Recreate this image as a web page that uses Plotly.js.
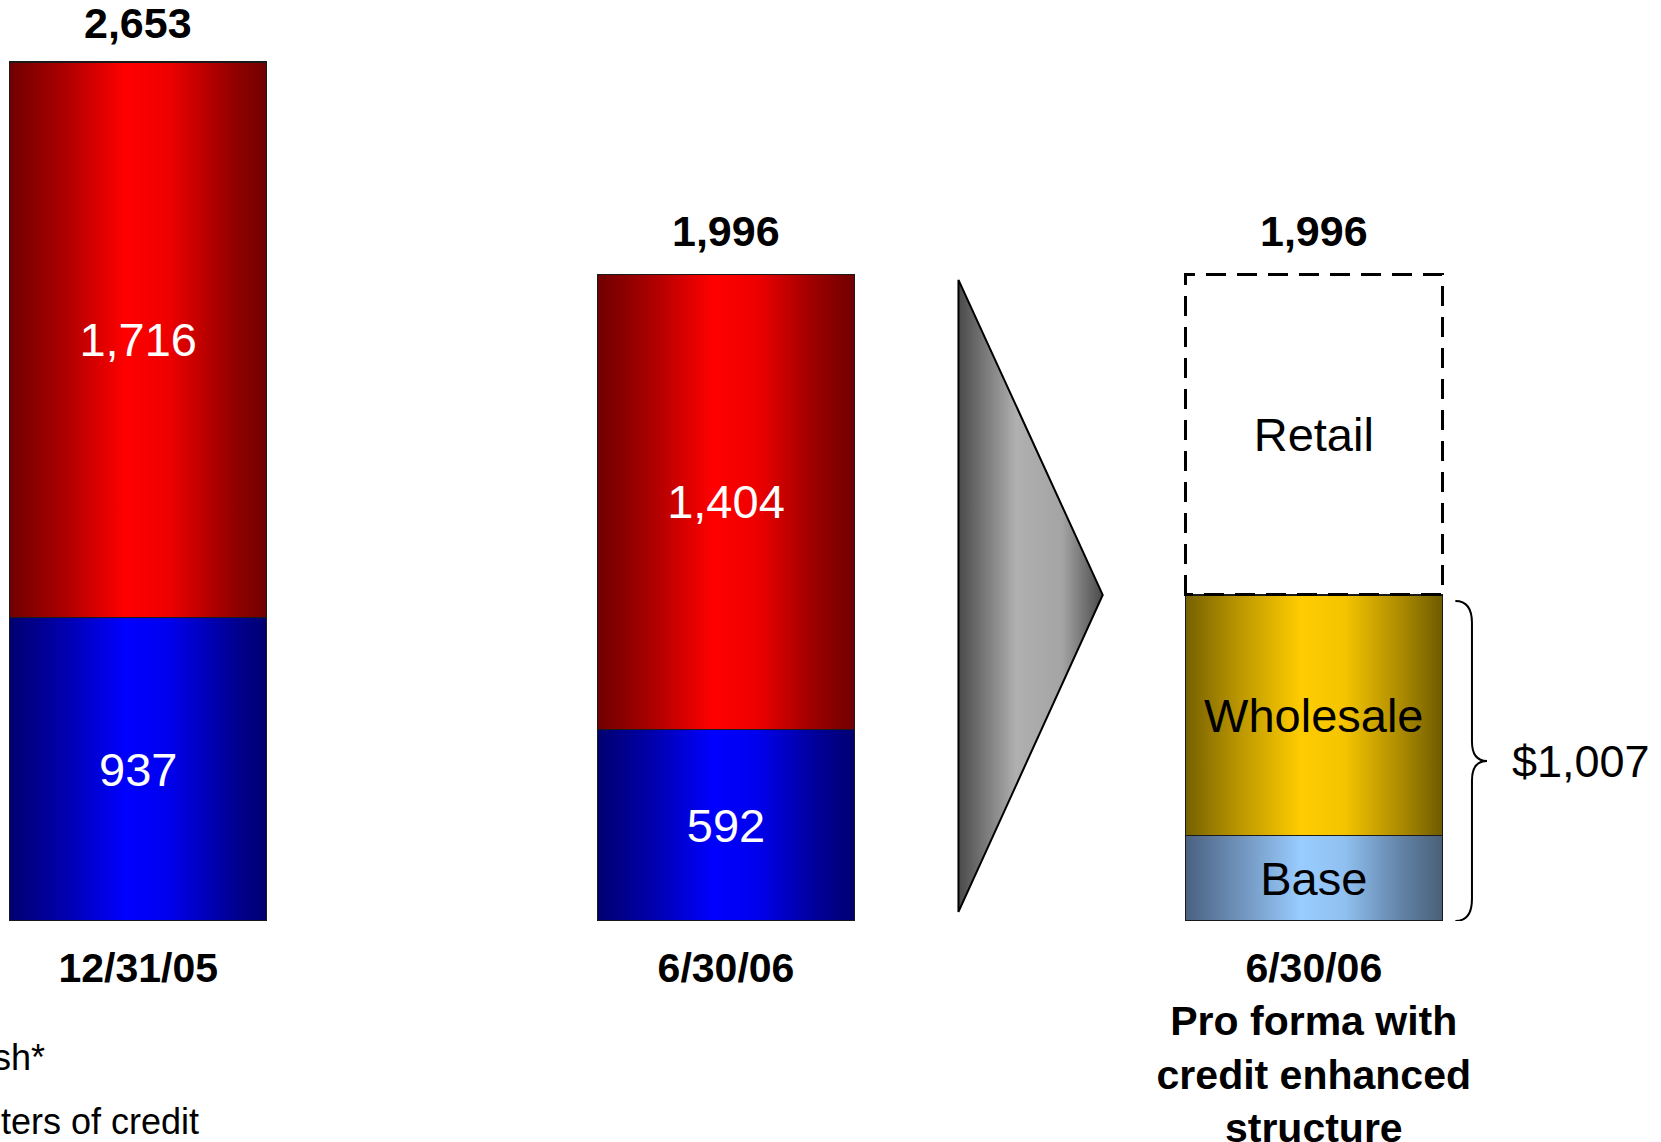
<!DOCTYPE html>
<html>
<head>
<meta charset="utf-8">
<script src="https://cdn.plot.ly/plotly-3.0.1.min.js"></script>
<style>
  html, body { margin: 0; padding: 0; background: #ffffff; }
  #chart { width: 1661px; height: 1142px; }
</style>
</head>
<body>
<div id="chart"></div>
<script>
// ---------------- data ----------------
const periods = ['12/31/05', '6/30/06', '6/30/06<br>Pro forma with<br>credit enhanced<br>structure'];
const lettersOfCredit = [937, 592, null];
const cash = [1716, 1404, null];
const base = [null, null, 265];
const wholesale = [null, null, 742];
const retail = [null, null, 989];
const segmentNames = ['Base', 'Wholesale', 'Retail'];
const legendLabels = ['sh*', 'ters of credit'];

// ---------------- derived ----------------
const xs = periods.map((_, i) => i);
const totals = xs.map(i => [lettersOfCredit, cash, base, wholesale, retail]
  .reduce((s, arr) => s + (arr[i] || 0), 0));
const enhancedTotal = (base[2] || 0) + (wholesale[2] || 0);
const fmt = v => v.toLocaleString('en-US');

// ---------------- styling ----------------
const FONT = '"Liberation Sans", Arial, Helvetica, sans-serif';
const BAR_W = 0.4377;
const OUTLINE = { color: '#1a1a1a', width: 1.3 };
const TOTAL_SHIFT = [39, 44, 44];

const barBase = {
  type: 'bar', x: xs, width: BAR_W, hoverinfo: 'skip',
  textposition: 'inside', insidetextanchor: 'middle', textangle: 0,
  constraintext: 'none', cliponaxis: false
};

const traces = [
  Object.assign({}, barBase, {
    name: 'Letters of credit', y: lettersOfCredit,
    text: lettersOfCredit.map(v => v == null ? '' : fmt(v)), texttemplate: '%{text}',
    marker: { color: '#0000ff', line: OUTLINE },
    insidetextfont: { family: FONT, size: 47, color: '#ffffff' }
  }),
  Object.assign({}, barBase, {
    name: 'Cash*', y: cash,
    text: cash.map(v => v == null ? '' : fmt(v)), texttemplate: '%{text}',
    marker: { color: '#ff0000', line: OUTLINE },
    insidetextfont: { family: FONT, size: 47, color: '#ffffff' }
  }),
  Object.assign({}, barBase, {
    name: segmentNames[0], y: base,
    text: base.map(v => v == null ? '' : segmentNames[0]), texttemplate: '%{text}',
    marker: { color: '#99ccff', line: OUTLINE },
    insidetextfont: { family: FONT, size: 47, color: '#000000' }
  }),
  Object.assign({}, barBase, {
    name: segmentNames[1], y: wholesale,
    text: wholesale.map(v => v == null ? '' : segmentNames[1]), texttemplate: '%{text}',
    marker: { color: '#ffcc00', line: OUTLINE },
    insidetextfont: { family: FONT, size: 47, color: '#000000' }
  }),
  Object.assign({}, barBase, {
    name: segmentNames[2], y: retail,
    text: retail.map(v => v == null ? '' : segmentNames[2]), texttemplate: '%{text}',
    marker: { color: 'rgba(255,255,255,0)', line: { color: '#000000', width: 3 } },
    insidetextfont: { family: FONT, size: 47, color: '#000000' }
  }),
  // decorative arrow between the 6/30/06 bars
  {
    type: 'scatter', mode: 'lines', hoverinfo: 'skip', showlegend: false,
    x: [1.3955, 1.6409, 1.3955, 1.3955],
    y: [1980, enhancedTotal, 28, 1980],
    fill: 'toself',
    fillgradient: {
      type: 'horizontal',
      colorscale: [[0, '#4a4a4a'], [0.4, '#b0b0b0'], [0.72, '#a4a4a4'], [1, '#4a4a4a']]
    },
    line: { color: '#000000', width: 2 }
  }
];

// brace next to base + wholesale
const bx0 = 2 + BAR_W / 2 + 0.022, bxs = 2.2691, bxt = 2.2947;
const byb = 0, byt = enhancedTotal - 19, bym = (byb + byt) / 2;
const bracePath = `M ${bx0},${byt} Q ${bxs},${byt} ${bxs},${byt - 68} L ${bxs},${bym + 60} ` +
  `Q ${bxs},${bym} ${bxt},${bym} Q ${bxs},${bym} ${bxs},${bym - 60} ` +
  `L ${bxs},${byb + 68} Q ${bxs},${byb} ${bx0},${byb}`;

const annotations = xs.map(i => ({
  x: i, y: totals[i], xref: 'x', yref: 'y', text: '<b>' + fmt(totals[i]) + '</b>',
  showarrow: false, yanchor: 'middle', xanchor: 'center', yshift: TOTAL_SHIFT[i],
  font: { family: FONT, size: 43, color: '#000000' }
}));
annotations.push({
  x: 2.3338, y: bym, xref: 'x', yref: 'y', text: '$' + fmt(enhancedTotal),
  showarrow: false, xanchor: 'left', yanchor: 'middle',
  font: { family: FONT, size: 45, color: '#000000' }
});
annotations.push({
  x: 47 / 1661, y: (921 - 1057) / 921, xref: 'paper', yref: 'paper', text: legendLabels[0],
  showarrow: false, xanchor: 'right', yanchor: 'middle',
  font: { family: FONT, size: 36, color: '#000000' }
});
annotations.push({
  x: 0, y: (921 - 1121) / 921, xref: 'paper', yref: 'paper', text: legendLabels[1],
  showarrow: false, xanchor: 'left', yanchor: 'middle', xshift: -1,
  font: { family: FONT, size: 36, color: '#000000' }
});

const layout = {
  width: 1661, height: 1142,
  margin: { l: 0, r: 0, t: 0, b: 221, pad: 0 },
  paper_bgcolor: '#ffffff', plot_bgcolor: '#ffffff',
  barmode: 'stack', bargap: 0, showlegend: false,
  font: { family: FONT },
  xaxis: {
    range: [-0.2351, 2.5907], tickmode: 'array', tickvals: xs, ticktext: periods,
    showgrid: false, zeroline: false, showline: false, ticks: '',
    tickfont: { family: FONT, size: 41, color: '#000000', weight: 'bold' },
    ticklabelstandoff: 19, fixedrange: true
  },
  yaxis: { range: [0, 2844], visible: false, fixedrange: true },
  shapes: [{ type: 'path', xref: 'x', yref: 'y', path: bracePath, line: { color: '#000000', width: 2 } }],
  annotations: annotations
};

const gd = document.getElementById('chart');
Plotly.newPlot(gd, traces, layout, { staticPlot: true, displayModeBar: false }).then(() => {
  const NS = 'http://www.w3.org/2000/svg';
  const svg = gd.querySelector('svg.main-svg');
  let defs = svg.querySelector('defs');
  if (!defs) { defs = document.createElementNS(NS, 'defs'); svg.insertBefore(defs, svg.firstChild); }
  function addGrad(id, stops) {
    const g = document.createElementNS(NS, 'linearGradient');
    g.setAttribute('id', id);
    g.setAttribute('x1', '0'); g.setAttribute('y1', '0');
    g.setAttribute('x2', '1'); g.setAttribute('y2', '0');
    stops.forEach(([o, c]) => {
      const s = document.createElementNS(NS, 'stop');
      s.setAttribute('offset', o); s.setAttribute('stop-color', c);
      g.appendChild(s);
    });
    defs.appendChild(g);
  }
  addGrad('gBlue', [[0, '#000070'], [0.2, '#0000a8'], [0.45, '#0000ff'], [0.62, '#0000ee'], [0.85, '#00009a'], [1, '#000070']]);
  addGrad('gRed', [[0, '#700000'], [0.2, '#a80000'], [0.45, '#ff0000'], [0.62, '#ee0000'], [0.85, '#9a0000'], [1, '#700000']]);
  addGrad('gBase', [[0, '#4a6080'], [0.2, '#6e90b8'], [0.45, '#99ccff'], [0.62, '#90c0f0'], [0.85, '#6080a4'], [1, '#4a6078']]);
  addGrad('gGold', [[0, '#766000'], [0.2, '#b89400'], [0.45, '#ffcc00'], [0.62, '#f4c400'], [0.85, '#a88800'], [1, '#6e5a00']]);
  const fills = ['gBlue', 'gRed', 'gBase', 'gGold', null];
  const groups = gd.querySelectorAll('.barlayer .trace');
  groups.forEach((g, k) => {
    g.querySelectorAll('.point path').forEach(p => {
      if (fills[k]) p.style.fill = 'url(#' + fills[k] + ')';
      else { p.style.fill = '#ffffff'; p.style.strokeDasharray = '20px,11px'; }
    });
  });
});
</script>
</body>
</html>
